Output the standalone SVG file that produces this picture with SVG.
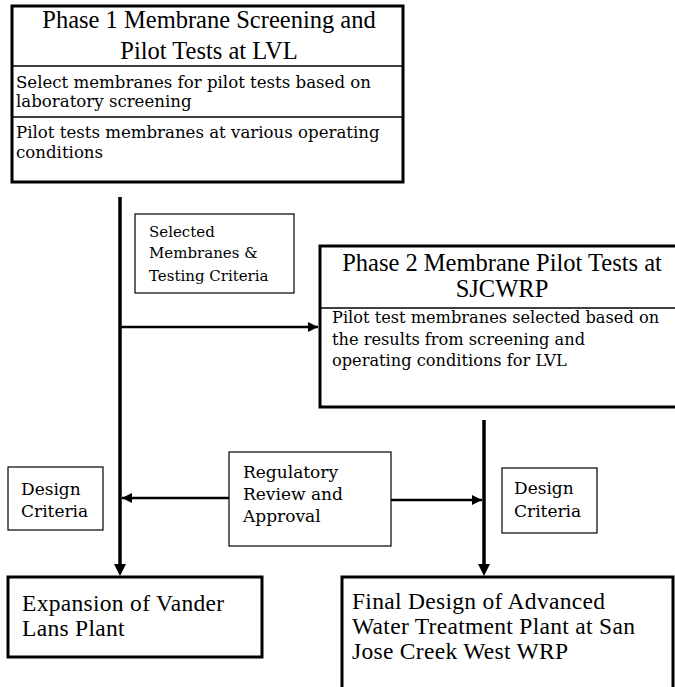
<svg xmlns="http://www.w3.org/2000/svg" width="675" height="687" viewBox="0 0 675 687">
<style>
.bg{fill:#fff}
.thick{fill:#fff;stroke:#000;stroke-width:3}
.thin{fill:#fff;stroke:#000;stroke-width:1.2}
.div{stroke:#000;stroke-width:1.5;fill:none}
.title{font-family:"Liberation Serif","Times New Roman",serif;font-size:24.5px;fill:#000}
.big{font-family:"Liberation Serif","Times New Roman",serif;font-size:23.5px;letter-spacing:0.3px;fill:#000}
.body{font-family:"DejaVu Serif",serif;font-size:16.6px;fill:#000}
.lab{font-family:"DejaVu Serif",serif;font-size:17px;fill:#000}
.sel{font-family:"DejaVu Serif",serif;font-size:15px;fill:#000}
.main{stroke:#000;stroke-width:3.5;fill:none}
.conn{stroke:#000;stroke-width:2.5;fill:none}
</style>
<defs>
<marker id="ah" viewBox="0 0 10 10" refX="10" refY="5" markerWidth="4" markerHeight="4" orient="auto" markerUnits="strokeWidth">
<path d="M0,0 L10,5 L0,10 z" fill="#000"/>
</marker>
</defs>
<rect class="bg" x="0" y="0" width="675" height="687"/>
<g id="connectors">
<line class="main" x1="120" y1="197" x2="120" y2="566"/>
<path d="M114,564 L126,564 L120,576 z" fill="#000"/>
<line class="conn" x1="120" y1="327" x2="318" y2="327" marker-end="url(#ah)"/>
<line class="conn" x1="229" y1="498" x2="122" y2="498" marker-end="url(#ah)"/>
<line class="conn" x1="391" y1="500" x2="482" y2="500" marker-end="url(#ah)"/>
<line class="main" x1="484" y1="420" x2="484" y2="566"/>
<path d="M478,564 L490,564 L484,576 z" fill="#000"/>
</g>
<g id="phase1">
<rect class="thick" x="12" y="6" width="391" height="176"/>
<line class="div" x1="12" y1="66" x2="403" y2="66"/>
<line class="div" x1="12" y1="117" x2="403" y2="117"/>
<text class="title" x="209" y="28" text-anchor="middle">Phase 1 Membrane Screening and</text>
<text class="title" x="209" y="59" text-anchor="middle">Pilot Tests at LVL</text>
<text class="body" x="16" y="88">Select membranes for pilot tests based on</text>
<text class="body" x="16" y="107">laboratory screening</text>
<text class="body" x="16" y="138">Pilot tests membranes at various operating</text>
<text class="body" x="16" y="158">conditions</text>
</g>
<g id="selected">
<rect class="thin" x="135" y="214" width="159" height="79"/>
<text class="sel" x="149" y="237">Selected</text>
<text class="sel" x="149" y="258">Membranes &amp;</text>
<text class="sel" x="149" y="281">Testing Criteria</text>
</g>
<g id="phase2">
<rect class="thick" x="320" y="246" width="370" height="161"/>
<line class="div" x1="320" y1="308" x2="675" y2="308"/>
<text class="title" x="502" y="271" text-anchor="middle">Phase 2 Membrane Pilot Tests at</text>
<text class="title" x="502" y="297" text-anchor="middle">SJCWRP</text>
<text class="body" x="332" y="323" style="font-size:16.2px">Pilot test membranes selected based on</text>
<text class="body" x="332" y="345" style="font-size:16.2px">the results from screening and</text>
<text class="body" x="332" y="366" style="font-size:16.2px">operating conditions for LVL</text>
</g>
<g id="regulatory">
<rect class="thin" x="229" y="452" width="162" height="94"/>
<text class="lab" x="243" y="478">Regulatory</text>
<text class="lab" x="243" y="500">Review and</text>
<text class="lab" x="243" y="522">Approval</text>
</g>
<g id="design-left">
<rect class="thin" x="8" y="467" width="95" height="63"/>
<text class="lab" x="21" y="495">Design</text>
<text class="lab" x="21" y="517">Criteria</text>
</g>
<g id="design-right">
<rect class="thin" x="502" y="468" width="95" height="65"/>
<text class="lab" x="514" y="494">Design</text>
<text class="lab" x="514" y="517">Criteria</text>
</g>
<g id="expansion">
<rect class="thick" x="8" y="577" width="254" height="80"/>
<text class="big" x="22" y="611">Expansion of Vander</text>
<text class="big" x="22" y="636">Lans Plant</text>
</g>
<g id="final">
<rect class="thick" x="342" y="577" width="331" height="112"/>
<text class="big" x="352" y="609">Final Design of Advanced</text>
<text class="big" x="352" y="634">Water Treatment Plant at San</text>
<text class="big" x="352" y="659">Jose Creek West WRP</text>
</g>
</svg>
